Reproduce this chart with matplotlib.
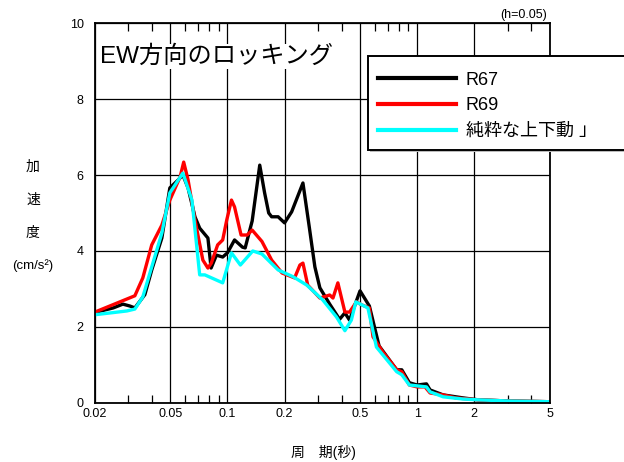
import matplotlib
matplotlib.use("Agg")
import matplotlib.pyplot as plt
from matplotlib.patches import Rectangle
from matplotlib.ticker import FixedLocator, NullFormatter

plt.rcParams['font.family'] = ['Liberation Sans', 'Noto Sans CJK JP', 'DejaVu Sans']

# 周期(秒) と 加速度 (h=0.05)
r67_t = [0.02, 0.025, 0.0281, 0.0306, 0.0325, 0.0367, 0.0399, 0.0451, 0.0497, 0.055,
         0.0582, 0.062, 0.0674, 0.0714, 0.0789, 0.082, 0.0875, 0.0944, 0.1, 0.109,
         0.12, 0.124, 0.135, 0.148, 0.157, 0.165, 0.171, 0.185, 0.2, 0.218,
         0.25, 0.27, 0.289, 0.307, 0.346, 0.39, 0.416, 0.44, 0.5, 0.56,
         0.63, 0.78, 0.83, 0.91, 1.0, 1.12, 1.17, 1.37, 1.75, 2.1, 3.0, 5.0]
r67_a = [2.38, 2.5, 2.6, 2.55, 2.5, 2.85, 3.5, 4.34, 5.66, 5.87,
         6.0, 5.66, 4.9, 4.6, 4.34, 3.55, 3.89, 3.84, 3.95, 4.29,
         4.1, 4.08, 4.79, 6.26, 5.53, 5.0, 4.9, 4.9, 4.74, 5.03,
         5.79, 4.63, 3.58, 3.03, 2.6, 2.2, 2.37, 2.18, 2.95, 2.55,
         1.5, 0.87, 0.87, 0.53, 0.47, 0.5, 0.34, 0.21, 0.13, 0.08, 0.05, 0.03]

r69_t = [0.02, 0.0325, 0.0358, 0.0399, 0.0451, 0.0497, 0.0563, 0.0588, 0.062, 0.0674,
         0.0742, 0.0789, 0.0822, 0.0888, 0.0944, 0.0992, 0.105, 0.109, 0.118, 0.127,
         0.135, 0.152, 0.171, 0.194, 0.226, 0.241, 0.25, 0.265, 0.307, 0.346,
         0.36, 0.382, 0.416, 0.44, 0.479, 0.51, 0.56, 0.585, 0.659, 0.782,
         0.83, 0.91, 1.0, 1.1, 1.17, 1.37, 1.6, 2.1, 3.0, 5.0]
r69_a = [2.39, 2.82, 3.29, 4.16, 4.68, 5.34, 5.95, 6.34, 5.87, 4.82,
         3.76, 3.55, 3.68, 4.16, 4.29, 4.82, 5.34, 5.16, 4.42, 4.42,
         4.55, 4.25, 3.76, 3.42, 3.29, 3.63, 3.68, 3.1, 2.76, 2.84,
         2.76, 3.16, 2.39, 2.39, 2.66, 2.58, 2.5, 1.74, 1.34, 0.87,
         0.82, 0.47, 0.42, 0.42, 0.26, 0.21, 0.13, 0.08, 0.05, 0.03]

vert_t = [0.02, 0.0295, 0.0325, 0.0358, 0.0399, 0.0451, 0.0497, 0.0582, 0.065, 0.0714,
          0.076, 0.0944, 0.105, 0.117, 0.136, 0.152, 0.185, 0.222, 0.262, 0.318,
          0.376, 0.416, 0.45, 0.475, 0.55, 0.61, 0.78, 0.83, 0.91, 1.12,
          1.17, 1.37, 1.75, 2.1, 3.0, 5.0]
vert_a = [2.32, 2.42, 2.47, 2.79, 3.58, 4.47, 5.53, 6.05, 5.34, 3.37,
          3.37, 3.16, 3.95, 3.63, 4.0, 3.92, 3.5, 3.32, 3.1, 2.71,
          2.26, 1.9, 2.18, 2.66, 2.5, 1.47, 0.82, 0.74, 0.47, 0.42,
          0.29, 0.16, 0.1, 0.08, 0.05, 0.03]

labels = ['R67', 'R69', '純粋な上下動 」']
x_major = [0.02, 0.05, 0.1, 0.2, 0.5, 1, 2, 5]
x_major_labels = ['0.02', '0.05', '0.1', '0.2', '0.5', '1', '2', '5']
x_minor = [0.03, 0.04, 0.06, 0.07, 0.08, 0.09, 0.3, 0.4, 0.6, 0.7, 0.8, 0.9, 3, 4]

fig = plt.figure(figsize=(6.24, 4.62), dpi=100)
ax = fig.add_axes([0.152, 0.128, 0.729, 0.822])

l1, = ax.plot(r67_t, r67_a, color='black', lw=2.4)
l2, = ax.plot(r69_t, r69_a, color='#ff0000', lw=2.4)
l3, = ax.plot(vert_t, vert_a, color='#00ffff', lw=2.4)

ax.set_xscale('log')
ax.set_xlim(0.02, 5)
ax.set_ylim(0, 10)
ax.xaxis.set_major_locator(FixedLocator(x_major))
ax.set_xticklabels(x_major_labels)
ax.xaxis.set_minor_locator(FixedLocator(x_minor))
ax.xaxis.set_minor_formatter(NullFormatter())
ax.set_yticks([0, 2, 4, 6, 8, 10])
ax.grid(True, which='major', color='black', lw=0.9)
ax.tick_params(axis='x', which='major', length=0, pad=4, labelsize=9)
ax.tick_params(axis='x', which='minor', direction='in', length=6, width=0.9,
               top=True, bottom=True)
ax.tick_params(axis='y', length=0, pad=8, labelsize=9)
for s in ax.spines.values():
    s.set_linewidth(1.3)

# タイトル
ax.text(0.012, 0.912, 'EW方向のロッキング', transform=ax.transAxes, fontsize=17.5,
        va='center', ha='left', bbox=dict(facecolor='white', edgecolor='none', pad=1))

# 凡例の枠
fig.patches.append(Rectangle((0.593, 0.670), 0.45, 0.203, transform=fig.transFigure,
                             facecolor='#bbbbbb', edgecolor='none', zorder=5))
fig.patches.append(Rectangle((0.590, 0.675), 0.45, 0.203, transform=fig.transFigure,
                             facecolor='white', edgecolor='black', lw=1.4, zorder=6))
leg = fig.legend([l1, l2, l3], labels, loc='upper left', bbox_to_anchor=(0.606, 0.845),
                 frameon=False, fontsize=13, handlelength=4.3, handletextpad=0.55,
                 labelspacing=0.48, borderaxespad=0, borderpad=0)
leg.set_zorder(7)
for h in leg.legend_handles:
    h.set_linewidth(3)

fig.text(0.877, 0.968, '(h=0.05)', fontsize=9, ha='right', va='center')

# 縦軸ラベル
for ch, yy in zip(['加', '速', '度'], [167, 200, 233]):
    fig.text(33 / 624, 1 - yy / 462, ch, fontsize=10, ha='center', va='center')
fig.text(33 / 624, 1 - 266 / 462, '(cm/s²)', fontsize=9.5, ha='center', va='center')

fig.text(323 / 624, 1 - 452 / 462, '周　期(秒)', fontsize=10, ha='center', va='center')

fig.savefig('out.png', dpi=100)
